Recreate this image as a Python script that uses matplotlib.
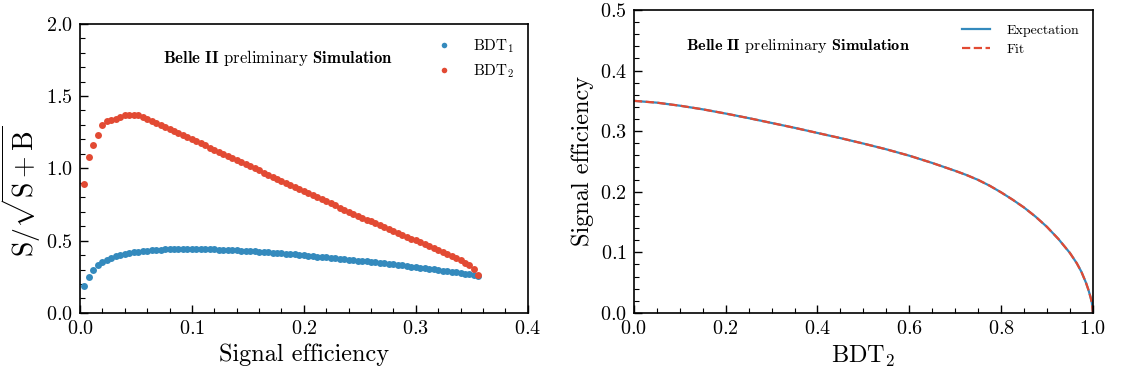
import numpy as np
import matplotlib
matplotlib.use("Agg")
import matplotlib.pyplot as plt
from matplotlib.ticker import MultipleLocator

# %% DATA
# left panel: S/sqrt(S+B) vs signal efficiency
sig_eff = [0.004, 0.008, 0.012, 0.016, 0.020, 0.024, 0.028, 0.032, 0.036, 0.040,
           0.044, 0.048, 0.052, 0.056, 0.060, 0.064, 0.068, 0.072, 0.076, 0.080,
           0.084, 0.088, 0.092, 0.096, 0.100, 0.104, 0.108, 0.112, 0.116, 0.120,
           0.124, 0.128, 0.132, 0.136, 0.140, 0.144, 0.148, 0.152, 0.156, 0.160,
           0.164, 0.168, 0.172, 0.176, 0.180, 0.184, 0.188, 0.192, 0.196, 0.200,
           0.204, 0.208, 0.212, 0.216, 0.220, 0.224, 0.228, 0.232, 0.236, 0.240,
           0.244, 0.248, 0.252, 0.256, 0.260, 0.264, 0.268, 0.272, 0.276, 0.280,
           0.284, 0.288, 0.292, 0.296, 0.300, 0.304, 0.308, 0.312, 0.316, 0.320,
           0.324, 0.328, 0.332, 0.336, 0.340, 0.344, 0.348, 0.352, 0.356]

signif_bdt1 = [0.186, 0.250, 0.294, 0.328, 0.352, 0.368, 0.382, 0.393, 0.402, 0.409,
               0.415, 0.420, 0.424, 0.428, 0.431, 0.434, 0.436, 0.438, 0.439, 0.440,
               0.441, 0.442, 0.442, 0.442, 0.442, 0.442, 0.442, 0.441, 0.440, 0.439,
               0.438, 0.437, 0.436, 0.434, 0.433, 0.431, 0.429, 0.427, 0.425, 0.423,
               0.421, 0.419, 0.416, 0.414, 0.412, 0.409, 0.407, 0.404, 0.401, 0.399,
               0.396, 0.393, 0.390, 0.387, 0.384, 0.381, 0.378, 0.375, 0.372, 0.369,
               0.366, 0.362, 0.359, 0.356, 0.352, 0.349, 0.345, 0.342, 0.338, 0.335,
               0.331, 0.328, 0.324, 0.320, 0.317, 0.313, 0.309, 0.305, 0.301, 0.297,
               0.293, 0.289, 0.284, 0.280, 0.275, 0.270, 0.266, 0.261, 0.257]

signif_bdt2 = [0.890, 1.080, 1.160, 1.230, 1.300, 1.325, 1.332, 1.340, 1.357, 1.370,
               1.369, 1.370, 1.366, 1.353, 1.340, 1.328, 1.316, 1.302, 1.287, 1.273,
               1.258, 1.244, 1.230, 1.215, 1.201, 1.186, 1.172, 1.158, 1.143, 1.129,
               1.114, 1.100, 1.086, 1.071, 1.057, 1.042, 1.028, 1.014, 0.999, 0.985,
               0.970, 0.956, 0.942, 0.927, 0.913, 0.898, 0.884, 0.870, 0.855, 0.841,
               0.827, 0.813, 0.799, 0.785, 0.771, 0.757, 0.743, 0.729, 0.715, 0.701,
               0.687, 0.673, 0.659, 0.646, 0.633, 0.620, 0.606, 0.593, 0.580, 0.567,
               0.554, 0.540, 0.527, 0.514, 0.501, 0.487, 0.474, 0.461, 0.447, 0.434,
               0.420, 0.407, 0.393, 0.379, 0.364, 0.348, 0.331, 0.305, 0.262]

# right panel: signal efficiency vs BDT2 cut
bdt2_cut = [0.0, 0.05, 0.1, 0.15, 0.2, 0.25, 0.3, 0.35, 0.4, 0.45, 0.5, 0.55,
            0.6, 0.65, 0.7, 0.725, 0.75, 0.775, 0.8, 0.825, 0.85, 0.875, 0.9,
            0.925, 0.95, 0.965, 0.975, 0.985, 0.99, 0.995, 0.998, 1.0]
expectation_eff = [0.3500, 0.3470, 0.3420, 0.3360, 0.3290, 0.3215, 0.3135, 0.3055,
                   0.2970, 0.2885, 0.2795, 0.2700, 0.2595, 0.2475, 0.2345, 0.2275,
                   0.2195, 0.2100, 0.1990, 0.1870, 0.1740, 0.1590, 0.1420, 0.1220,
                   0.0990, 0.0820, 0.0680, 0.0500, 0.0390, 0.0260, 0.0165, 0.0]
fit_eff = [0.3500, 0.3470, 0.3420, 0.3360, 0.3290, 0.3215, 0.3135, 0.3055,
           0.2970, 0.2885, 0.2795, 0.2700, 0.2595, 0.2475, 0.2345, 0.2275,
           0.2195, 0.2100, 0.1990, 0.1870, 0.1740, 0.1590, 0.1420, 0.1220,
           0.0990, 0.0820, 0.0680, 0.0500, 0.0390, 0.0260, 0.0165, 0.0]

# %% STYLE
plt.rcParams['font.family'] = 'serif'
plt.rcParams['font.serif'] = ['cmr10', 'DejaVu Serif']
plt.rcParams['mathtext.fontset'] = 'cm'
plt.rcParams['axes.formatter.use_mathtext'] = True
plt.rcParams['axes.unicode_minus'] = False

blue = '#348ABD'
red = '#E24A33'
label = r"$\mathbf{Belle\ II}$ preliminary $\mathbf{Simulation}$"


def style_axes(ax):
    ax.tick_params(which='both', direction='in', top=False, right=False)
    ax.tick_params(which='major', length=6, width=1.0, labelsize=14.5, pad=5)
    ax.tick_params(which='minor', length=3.5, width=0.8)
    for s in ax.spines.values():
        s.set_linewidth(1.2)


fig = plt.figure(figsize=(11.22, 3.83), dpi=100)
ax1 = fig.add_axes([0.0713, 0.183, 0.399, 0.755])
ax2 = fig.add_axes([0.565, 0.183, 0.409, 0.791])

# %% LEFT PANEL
ax1.plot(sig_eff, signif_bdt1, 'o', color=blue, ms=5.0, mew=0, label=r"BDT$_1$")
ax1.plot(sig_eff, signif_bdt2, 'o', color=red, ms=5.0, mew=0, label=r"BDT$_2$")
ax1.set_xlim(0, 0.4)
ax1.set_ylim(0, 2.0)
ax1.xaxis.set_major_locator(MultipleLocator(0.1))
ax1.xaxis.set_minor_locator(MultipleLocator(0.02))
ax1.yaxis.set_major_locator(MultipleLocator(0.5))
ax1.yaxis.set_minor_locator(MultipleLocator(0.1))
ax1.set_xlabel("Signal efficiency", fontsize=17.5)
ax1.set_ylabel(r"$\mathrm{S}/\sqrt{\mathrm{S}+\mathrm{B}}$", fontsize=20)
ax1.yaxis.set_label_coords(-0.082, 0.42)
ax1.text(0.185, 0.88, label, transform=ax1.transAxes, fontsize=12, va='center')
ax1.legend(loc='upper right', frameon=False, fontsize=11, markerscale=0.8,
           handletextpad=0.9, borderaxespad=0.5, labelspacing=0.5)
style_axes(ax1)

# %% RIGHT PANEL
ax2.plot(bdt2_cut, expectation_eff, '-', color=blue, lw=1.6, label="Expectation")
ax2.plot(bdt2_cut, fit_eff, '--', color=red, lw=1.6, label="Fit")
ax2.set_xlim(0, 1.0)
ax2.set_ylim(0, 0.5)
ax2.xaxis.set_major_locator(MultipleLocator(0.2))
ax2.xaxis.set_minor_locator(MultipleLocator(0.05))
ax2.yaxis.set_major_locator(MultipleLocator(0.1))
ax2.yaxis.set_minor_locator(MultipleLocator(0.02))
ax2.set_xlabel(r"BDT$_2$", fontsize=17.5)
ax2.set_ylabel("Signal efficiency", fontsize=17.5)
ax2.text(0.113, 0.88, label, transform=ax2.transAxes, fontsize=11.7, va='center')
ax2.legend(loc='upper right', frameon=False, fontsize=10, handlelength=2.0,
           handletextpad=1.2, borderaxespad=0.6, labelspacing=0.5)
style_axes(ax2)

fig.savefig("out.png", dpi=100)
